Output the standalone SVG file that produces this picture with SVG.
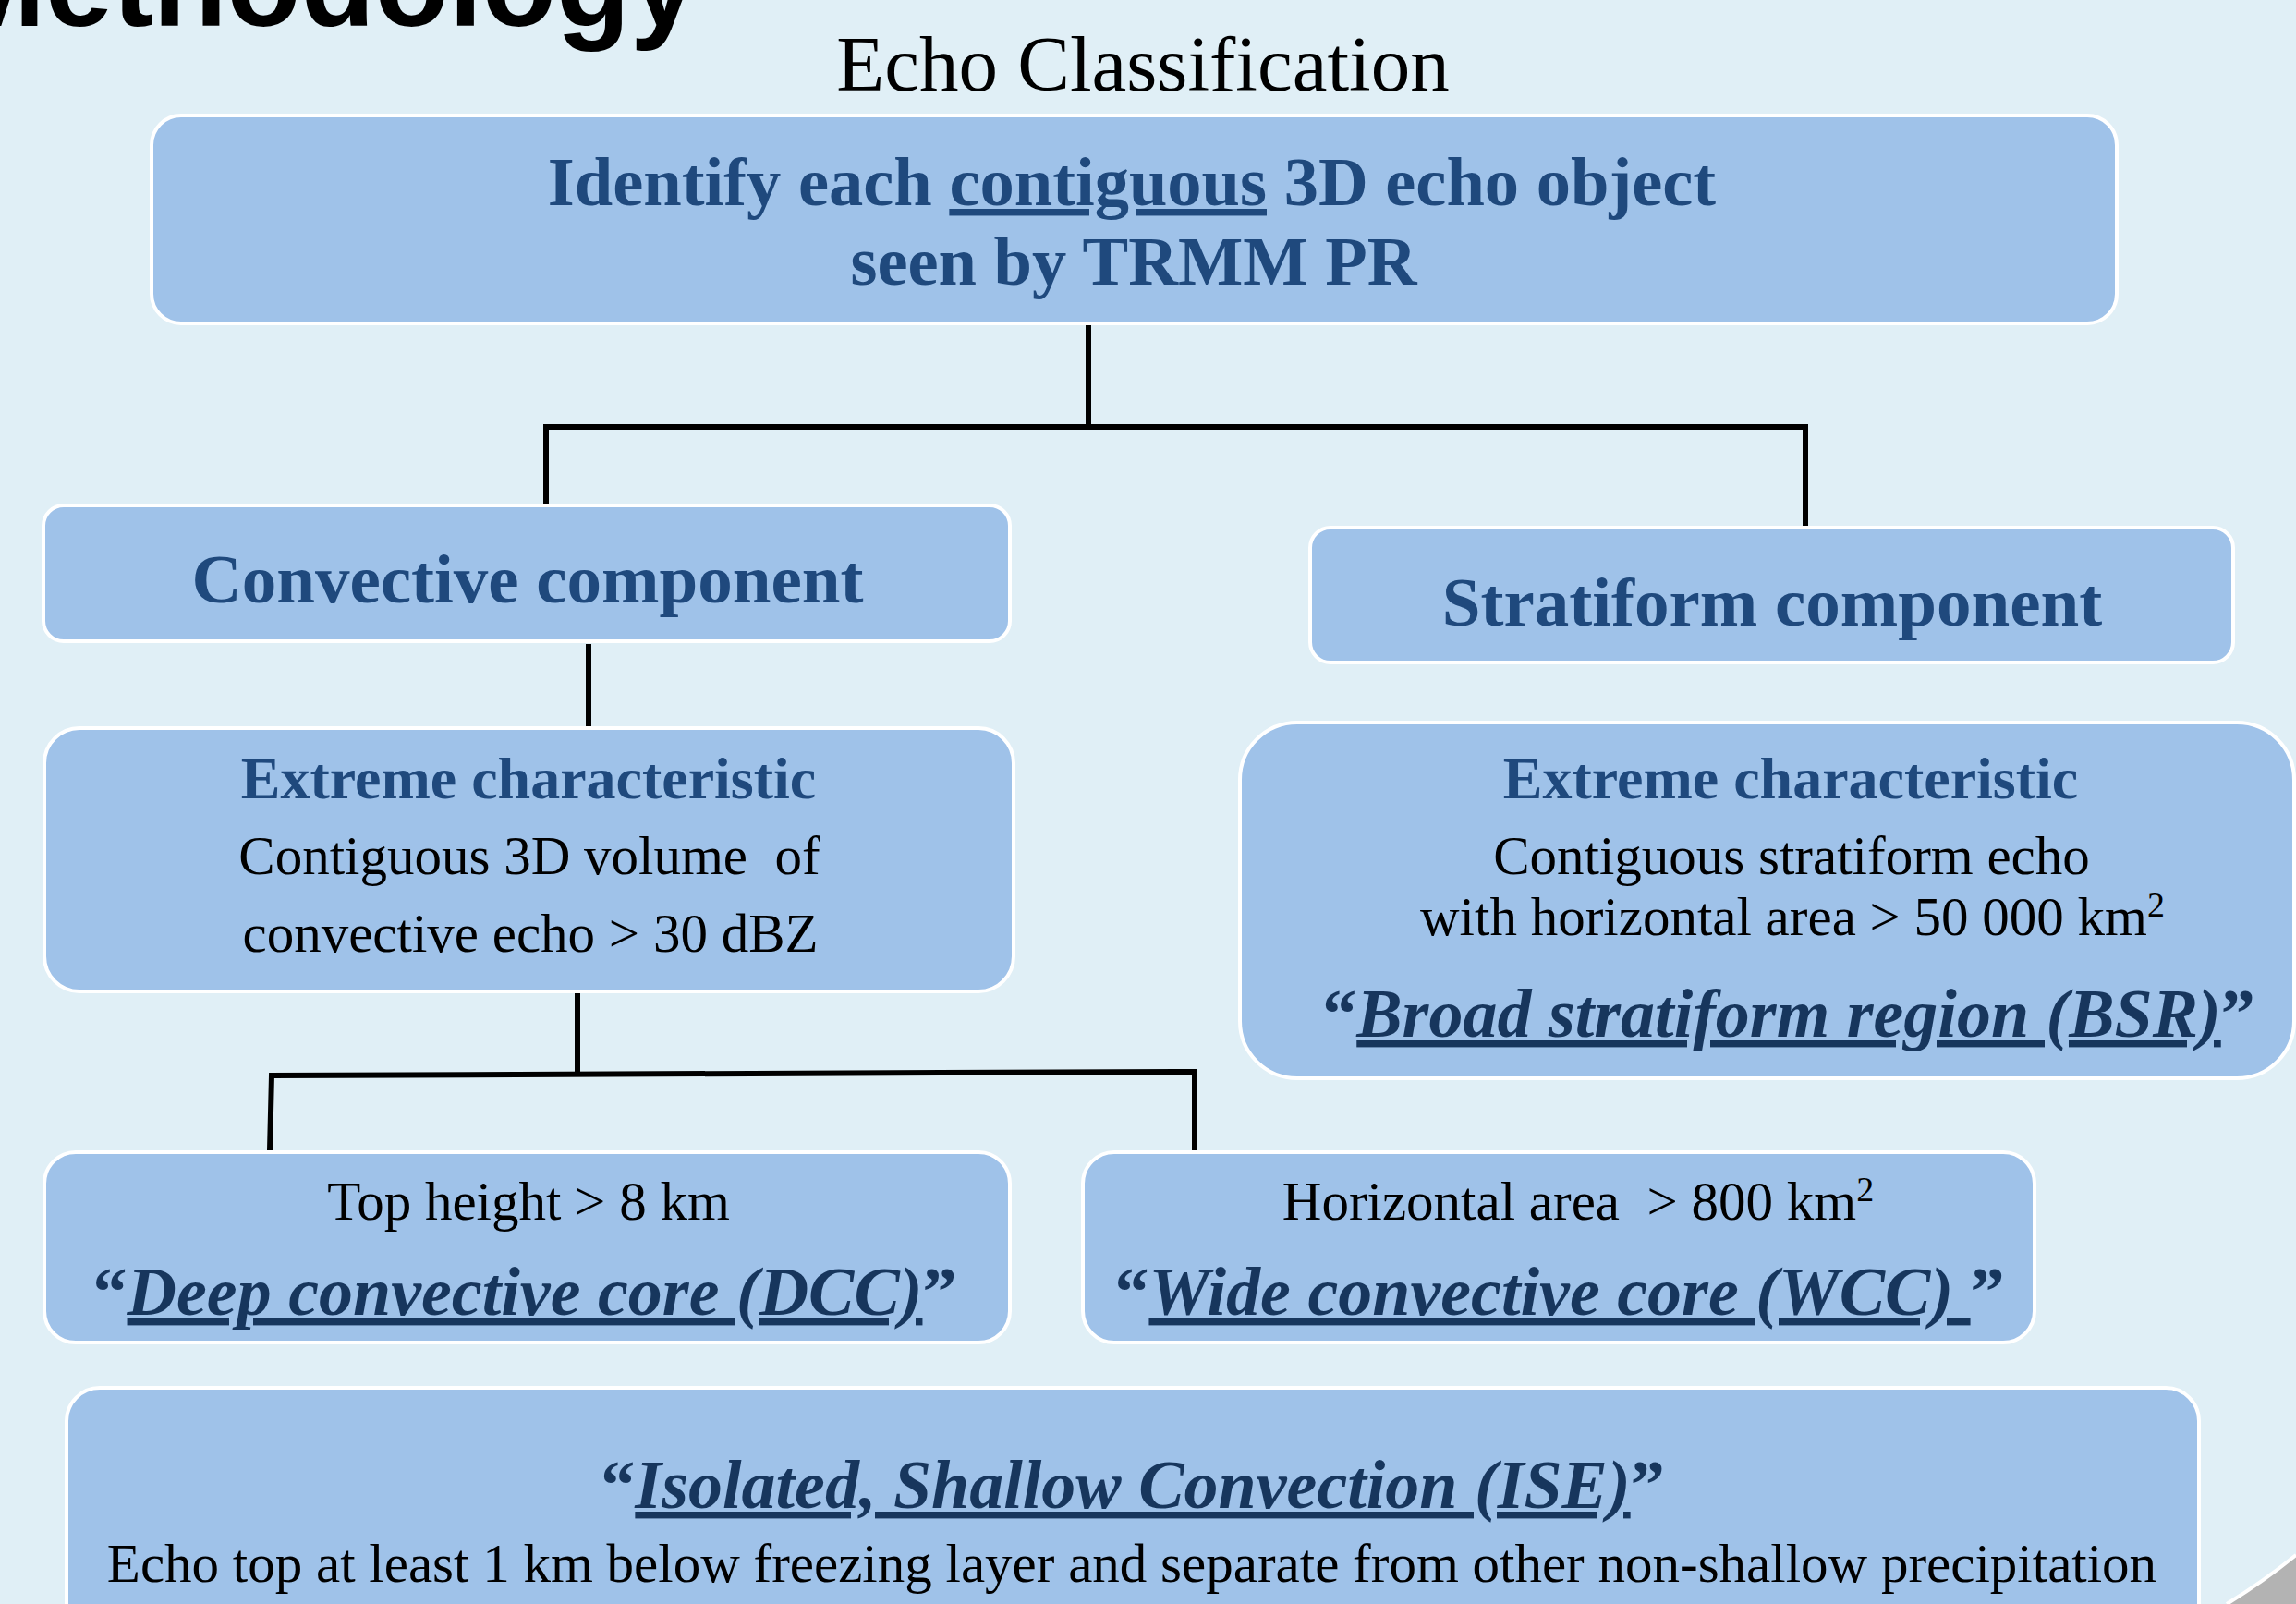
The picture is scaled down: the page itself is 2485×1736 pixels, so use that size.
<svg xmlns="http://www.w3.org/2000/svg" width="2485" height="1736" viewBox="0 0 2485 1736">
  <style>
    .box { fill: #9FC2E9; stroke: #FFFFFF; stroke-width: 4; }
    .serif { font-family: "Liberation Serif", "Times New Roman", serif; }
    .head { font-weight: bold; fill: #1F497D; }
    .body { fill: #000000; }
    .name { font-weight: bold; font-style: italic; fill: #17365D; text-decoration: underline; }
    .quote { fill: #17365D; font-weight: bold; font-style: normal; text-decoration: none; }
    .conn { fill: none; stroke: #000000; stroke-width: 6; stroke-linejoin: miter; stroke-linecap: butt; }
  </style>

  <!-- background -->
  <rect x="0" y="0" width="2485" height="1736" fill="#B3B3B3"/>
  <path d="M0,0 H2485 V1683 A700,700 0 0 1 2410,1736 H0 Z" fill="#E0EFF6"/>
  <path d="M2485,1683 A700,700 0 0 1 2410,1736" fill="none" stroke="#FFFFFF" stroke-width="4"/>

  <!-- titles -->
  <text x="-60" y="28" font-family="Liberation Sans, Arial, sans-serif" font-weight="bold" font-size="131" fill="#000000">Methodology</text>
  <text class="serif body" x="1237" y="98" font-size="85" text-anchor="middle">Echo Classification</text>

  <!-- connectors -->
  <g id="connectors">
    <path class="conn" d="M1178,352 V462"/>
    <path class="conn" d="M591,546 V462 H1954 V571"/>
    <path class="conn" d="M637,697 V786"/>
    <path class="conn" d="M625,1075 V1163"/>
    <path class="conn" d="M292,1245 L294,1164 L1293,1160 V1245"/>
  </g>

  <!-- nodes -->
  <g id="node-identify">
    <rect class="box" x="164" y="125" width="2127" height="225" rx="32"/>
    <text class="serif head" x="1225" y="222" font-size="74.5" text-anchor="middle">Identify each <tspan text-decoration="underline">contiguous</tspan> 3D echo object</text>
    <text class="serif head" x="1227" y="308" font-size="74.5" text-anchor="middle">seen by TRMM PR</text>
  </g>

  <g id="node-convective">
    <rect class="box" x="47" y="547" width="1046" height="147" rx="22"/>
    <text class="serif head" x="571" y="652" font-size="75" text-anchor="middle">Convective component</text>
  </g>

  <g id="node-stratiform">
    <rect class="box" x="1418" y="571" width="999" height="146" rx="22"/>
    <text class="serif head" x="1918" y="677" font-size="75" text-anchor="middle">Stratiform component</text>
  </g>

  <g id="node-extreme-convective">
    <rect class="box" x="48" y="788" width="1049" height="285" rx="38"/>
    <text class="serif head" x="572" y="864" font-size="64" text-anchor="middle">Extreme characteristic</text>
    <text class="serif body" x="573" y="946" font-size="59" text-anchor="middle" xml:space="preserve">Contiguous 3D volume  of</text>
    <text class="serif body" x="574" y="1030" font-size="59" text-anchor="middle">convective echo &gt; 30 dBZ</text>
  </g>

  <g id="node-bsr">
    <rect class="box" x="1342" y="782" width="1141" height="385" rx="62"/>
    <text class="serif head" x="1938" y="864" font-size="64" text-anchor="middle">Extreme characteristic</text>
    <text class="serif body" x="1939" y="946" font-size="59" text-anchor="middle">Contiguous stratiform echo</text>
    <text class="serif body" x="1940" y="1012" font-size="59" text-anchor="middle">with horizontal area &gt; 50 000 km<tspan font-size="38" dy="-20">2</tspan></text>
    <text class="serif" x="1936" y="1122" font-size="74" text-anchor="middle"><tspan class="quote">“</tspan><tspan class="name">Broad stratiform region (BSR)</tspan><tspan class="quote">”</tspan></text>
  </g>

  <g id="node-dcc">
    <rect class="box" x="48" y="1247" width="1045" height="206" rx="34"/>
    <text class="serif body" x="572" y="1320" font-size="59" text-anchor="middle">Top height &gt; 8 km</text>
    <text class="serif" x="568" y="1423" font-size="74" text-anchor="middle"><tspan class="quote">“</tspan><tspan class="name">Deep convective core (DCC)</tspan><tspan class="quote">”</tspan></text>
  </g>

  <g id="node-wcc">
    <rect class="box" x="1172" y="1247" width="1030" height="206" rx="34"/>
    <text class="serif body" x="1708" y="1320" font-size="59" text-anchor="middle" xml:space="preserve">Horizontal area  &gt; 800 km<tspan font-size="38" dy="-20">2</tspan></text>
    <text class="serif" x="1688" y="1423" font-size="74" text-anchor="middle" xml:space="preserve"><tspan class="quote">“</tspan><tspan class="name">Wide convective core (WCC) </tspan><tspan class="quote">”</tspan></text>
  </g>

  <g id="node-ise">
    <rect class="box" x="72" y="1502" width="2308" height="300" rx="36"/>
    <text class="serif" x="1226" y="1632" font-size="74" text-anchor="middle"><tspan class="quote">“</tspan><tspan class="name">Isolated, Shallow Convection (ISE)</tspan><tspan class="quote">”</tspan></text>
    <text class="serif body" x="1225" y="1712" font-size="59" text-anchor="middle">Echo top at least 1 km below freezing layer and separate from other non-shallow precipitation</text>
  </g>
</svg>
